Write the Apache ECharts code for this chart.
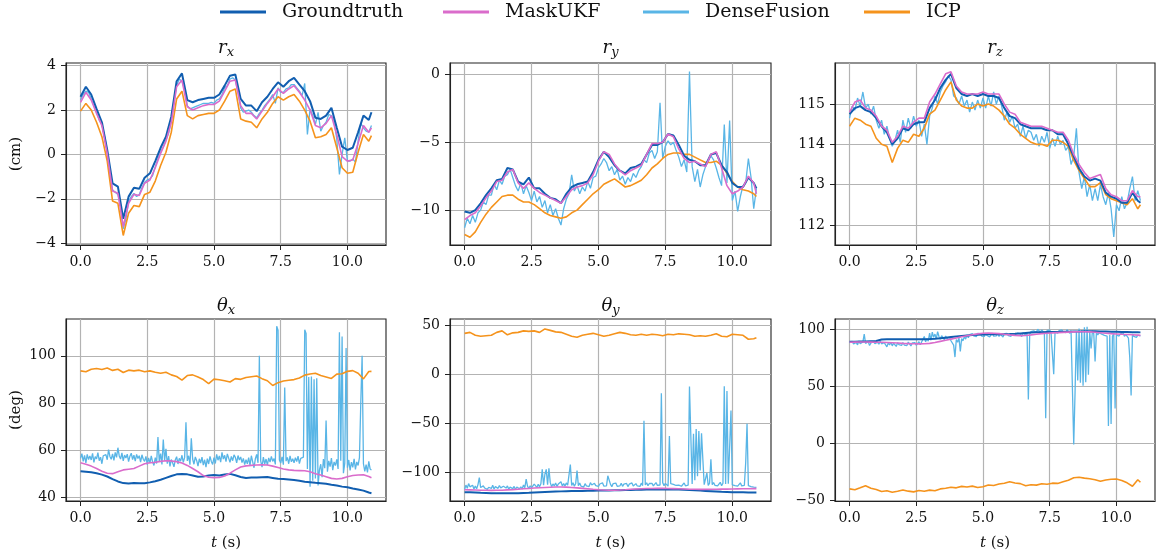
<!DOCTYPE html>
<html><head><meta charset="utf-8">
<script src="https://cdn.jsdelivr.net/npm/echarts@6/dist/echarts.min.js"></script>
<style>html,body{margin:0;padding:0;background:#fff}#c{width:1157px;height:558px}</style>
</head><body><div id="c"></div><script>
// ---------- time grids (sampling instants, seconds) ----------
const tC = []; for (let i = 0; i < 55; i++) tC.push(+(i * 0.2).toFixed(2)); tC.push(10.9);
const tF = []; for (let i = 0; i < 110; i++) tF.push(+(i * 0.1).toFixed(2));
const tD = []; for (let i = 0; i < 219; i++) tD.push(+(i * 0.05).toFixed(2));

const seriesNames = ['Groundtruth', 'MaskUKF', 'DenseFusion', 'ICP'];
const xTicks = [0, 2.5, 5, 7.5, 10];

// ---------- r_x (cm) ----------
const rxGT = [2.6,3.05,2.7,2.05,1.45,0.2,-1.3,-1.45,-2.9,-1.9,
 -1.5,-1.55,-1.05,-0.85,-0.3,0.3,0.8,1.7,3.3,3.65,
 2.45,2.35,2.45,2.5,2.55,2.55,2.7,3.1,3.55,3.6,
 2.5,2.2,2.2,1.95,2.35,2.6,2.95,3.25,3.05,3.3,
 3.45,3.15,2.85,2.4,1.65,1.6,1.75,2.1,1.2,0.35,
 0.2,0.3,1.0,1.75,1.55,1.9];
const rxUKF = [2.35,2.8,2.45,1.85,1.3,0.05,-1.65,-1.75,-3.25,-2.2,
 -1.8,-1.85,-1.3,-1.15,-0.6,0.05,0.6,1.45,3.05,3.35,
 2.15,2.0,2.1,2.2,2.25,2.25,2.4,2.85,3.3,3.35,
 2.2,1.85,1.85,1.6,1.95,2.3,2.6,2.95,2.75,2.95,
 3.1,2.8,2.45,2.0,1.3,1.2,1.4,1.75,0.9,-0.1,
 -0.3,-0.25,0.5,1.3,1.0,1.2];
const rxICP = [1.95,2.3,2.0,1.45,0.8,-0.3,-2.1,-2.2,-3.65,-2.65,
 -2.3,-2.35,-1.8,-1.7,-1.2,-0.5,0.1,1.0,2.5,2.85,
 1.75,1.6,1.75,1.8,1.85,1.85,2.0,2.4,2.85,2.95,
 1.6,1.5,1.45,1.2,1.6,1.9,2.3,2.6,2.45,2.6,
 2.7,2.4,2.0,1.5,0.75,0.8,0.9,1.2,0.3,-0.6,
 -0.85,-0.8,0.1,0.9,0.6,0.85];
const rxDF = [2.45,2.7,2.85,2.8,2.5,2.2,1.9,1.55,1.35,0.8,
 0.15,-0.9,-1.6,-1.7,-1.8,-2.3,-3.35,-2.9,-2.1,-1.9,
 -1.75,-1.9,-1.8,-1.5,-1.25,-1.15,-1.1,-0.95,-0.55,-0.2,
 0.1,0.35,0.65,0.95,1.5,2.3,3.1,3.4,3.3,2.9,
 2.2,2.05,2.1,2.15,2.2,2.25,2.3,2.3,2.3,2.35,
 2.3,2.45,2.5,2.7,3.0,3.1,3.4,3.45,3.35,2.8,
 2.1,1.9,1.95,2.0,1.9,1.75,1.65,1.85,2.0,2.2,
 2.35,2.5,2.7,2.3,3.0,2.8,2.8,2.95,3.0,3.15,
 3.15,3.0,2.85,2.65,3.2,0.9,2.05,1.75,1.35,1.9,
 1.05,1.3,1.45,1.8,1.75,1.5,0.7,-0.9,0.0,0.75,
 -0.3,-0.3,-0.2,-0.35,0.6,1.4,1.2,1.05,1.0,1.3];

// ---------- r_y (cm) ----------
const ryGT = [-10.1,-10.2,-10.0,-9.5,-8.9,-8.4,-7.8,-7.7,-6.9,-7.0,
 -7.9,-8.1,-7.6,-8.4,-8.4,-8.8,-9.1,-9.2,-9.5,-8.8,
 -8.3,-8.1,-8.0,-7.9,-7.2,-6.3,-5.7,-6.1,-6.7,-7.1,
 -7.3,-6.9,-6.8,-6.6,-5.9,-5.2,-5.2,-5.0,-4.4,-4.5,
 -5.2,-6.0,-6.3,-6.4,-6.7,-6.7,-5.9,-5.8,-6.7,-7.2,
 -8.0,-8.3,-8.3,-7.6,-8.0,-8.4];
const ryUKF = [-10.7,-10.4,-10.2,-9.7,-9.1,-8.6,-7.9,-7.8,-7.2,-7.0,
 -8.0,-8.4,-8.0,-8.4,-8.7,-8.9,-9.1,-9.3,-9.5,-9.0,
 -8.5,-8.3,-8.2,-8.0,-7.4,-6.4,-5.7,-5.9,-6.6,-7.1,
 -7.4,-7.1,-6.9,-6.7,-5.9,-5.1,-5.1,-5.0,-4.4,-4.6,
 -5.5,-6.2,-6.5,-6.4,-6.6,-6.8,-5.9,-5.7,-6.9,-8.2,
 -8.8,-8.6,-8.3,-7.5,-8.0,-8.8];
const ryICP = [-11.8,-12.0,-11.6,-10.9,-10.3,-9.8,-9.4,-9.0,-8.9,-8.9,
 -9.2,-9.4,-9.4,-9.6,-9.9,-10.2,-10.4,-10.5,-10.6,-10.5,
 -10.2,-10.0,-9.6,-9.2,-8.8,-8.5,-8.1,-7.9,-7.7,-8.0,
 -8.3,-8.2,-8.0,-7.8,-7.4,-6.9,-6.6,-6.2,-5.9,-5.8,
 -5.8,-5.9,-5.9,-6.1,-6.3,-6.5,-6.5,-6.4,-6.7,-7.3,
 -7.9,-8.3,-8.5,-8.6,-8.8,-9.0];
const ryDF = [-11.3,-10.6,-11.0,-10.4,-10.9,-10.2,-10.0,-9.4,-9.6,-8.9,
 -8.9,-8.1,-8.5,-7.8,-8.1,-7.5,-7.4,-7.0,-7.6,-8.2,
 -8.6,-8.0,-8.8,-8.2,-8.7,-9.3,-8.6,-9.4,-9.0,-9.8,
 -9.3,-10.2,-9.6,-10.4,-9.9,-10.6,-11.1,-9.9,-9.2,-8.8,
 -7.4,-8.6,-8.2,-8.8,-8.3,-8.6,-7.9,-8.4,-7.6,-7.5,
 -6.9,-6.6,-6.2,-6.5,-7.1,-6.8,-7.4,-7.0,-7.8,-7.5,
 -8.1,-7.6,-7.9,-7.3,-7.6,-7.1,-6.8,-6.3,-6.5,-5.8,
 -5.6,-6.2,-5.7,-2.1,-6.2,-5.3,-4.9,-5.2,-5.0,-5.6,
 -6.1,-6.8,-6.3,-7.2,0.2,-6.8,-7.9,-7.0,-8.3,-7.4,
 -6.8,-6.4,-6.0,-6.3,-6.9,-7.6,-8.2,-3.7,-8.0,-3.4,
 -9.3,-8.6,-10.1,-9.0,-8.2,-8.0,-6.2,-7.6,-9.9,-8.4];

// ---------- r_z (cm) ----------
const rzGT = [114.75,114.9,114.95,114.85,114.8,114.65,114.45,114.3,114.0,114.15,
 114.4,114.35,114.5,114.55,114.55,114.9,115.1,115.4,115.6,115.75,
 115.4,115.25,115.2,115.25,115.2,115.25,115.2,115.2,115.15,114.9,
 114.7,114.65,114.5,114.45,114.4,114.4,114.4,114.35,114.35,114.25,
 114.25,114.0,113.7,113.4,113.2,113.1,113.15,113.1,112.8,112.7,
 112.65,112.55,112.55,112.8,112.6,112.55];
const rzUKF = [114.8,115.05,115.1,114.9,114.85,114.7,114.45,114.35,114.05,114.2,
 114.45,114.4,114.55,114.65,114.65,115.05,115.25,115.5,115.75,115.8,
 115.45,115.3,115.25,115.25,115.25,115.3,115.25,115.25,115.25,115.0,
 114.8,114.75,114.55,114.5,114.45,114.45,114.45,114.4,114.35,114.3,
 114.3,114.1,113.75,113.5,113.3,113.15,113.2,113.25,112.9,112.75,
 112.7,112.6,112.6,112.85,112.7,112.7];
const rzICP = [114.45,114.65,114.6,114.5,114.45,114.15,114.0,113.95,113.55,113.9,
 114.1,114.05,114.25,114.2,114.4,114.75,114.85,115.1,115.35,115.55,
 115.1,114.95,114.9,114.9,115.0,114.95,115.0,114.95,114.85,114.7,
 114.5,114.4,114.25,114.15,114.05,114.0,114.0,113.95,114.1,114.1,
 114.05,113.95,113.6,113.35,113.15,112.95,112.95,113.05,112.75,112.65,
 112.6,112.55,112.5,112.65,112.4,112.5];
const rzDF = [114.65,114.95,114.85,115.15,114.95,115.3,114.9,115.0,114.75,114.95,
 114.6,114.4,114.6,114.25,114.45,114.15,113.95,114.1,114.35,114.05,
 114.6,114.3,114.65,114.4,114.7,114.45,114.6,114.2,114.5,114.0,
 114.7,114.9,115.2,115.0,115.3,115.45,115.55,115.7,115.6,115.2,
 115.15,115.0,115.2,114.95,115.1,114.8,115.05,114.85,115.1,114.9,
 115.15,114.9,115.2,114.95,115.3,115.0,115.2,114.95,114.6,114.8,
 114.55,114.7,114.4,114.5,114.2,114.45,114.15,114.35,114.3,114.1,
 114.25,113.95,114.2,114.05,114.3,113.9,114.15,113.95,114.2,114.0,
 114.1,113.85,113.95,113.5,113.7,114.4,113.3,112.9,113.2,112.7,
 113.0,112.6,112.9,112.6,113.0,112.7,112.5,112.8,112.4,111.7,
 112.5,112.35,112.7,112.4,112.55,112.9,113.2,112.6,112.85,112.6];

// ---------- theta_x (deg) ----------
const txGT = [51.0,50.8,50.6,50.2,49.6,48.8,47.7,46.7,46.0,45.8,
 46.0,45.9,45.9,46.3,46.8,47.4,48.2,49.0,49.7,49.9,
 49.7,49.2,48.7,48.8,49.2,49.4,49.2,49.6,49.9,49.3,
 48.6,48.2,48.4,48.4,48.5,48.6,48.2,47.8,47.7,47.5,
 47.3,47.0,46.6,46.4,46.1,45.9,45.7,45.3,45.0,44.5,
 44.2,43.7,43.3,42.8,42.0,41.7];
const txUKF = [54.6,54.0,53.2,52.2,51.0,50.2,50.0,50.8,51.6,51.9,
 52.2,53.2,54.2,54.6,54.8,55.2,55.5,55.4,55.1,54.5,
 53.5,52.2,50.8,49.2,48.5,48.3,48.4,49.0,50.2,51.6,
 52.8,53.3,53.5,53.7,53.8,53.7,53.2,52.6,52.0,51.6,
 51.4,51.3,51.2,50.8,50.0,49.4,48.7,48.0,47.7,48.0,
 48.7,49.2,49.4,49.5,48.8,48.3];
const txICP = [93.6,93.2,94.3,94.6,94.2,94.8,93.8,94.3,92.9,93.9,
 93.6,93.9,93.2,93.6,93.0,92.6,93.0,91.9,91.2,89.7,
 91.6,91.9,91.0,89.9,88.2,90.1,89.8,89.4,88.9,90.3,
 90.0,90.8,91.1,91.4,90.3,89.4,87.4,88.6,89.3,89.6,
 89.9,90.6,91.8,92.3,92.6,91.6,91.0,90.4,92.2,92.4,
 93.4,93.7,92.6,90.2,93.3,93.4];
const txDF = [56.5,58.5,55.2,57.8,54.6,58.2,56.0,57.5,55.8,58.6,54.8,57.2,56.3,58.9,55.5,57.0,54.2,57.6,56.8,58.1,
 55.9,60.2,57.3,56.1,58.4,55.6,59.0,56.9,61.0,57.5,56.2,58.8,55.4,57.9,56.6,58.3,55.1,57.4,58.7,56.0,
 57.8,55.3,58.2,56.4,57.6,54.9,58.0,56.1,55.2,57.3,53.8,56.7,54.5,57.5,55.0,53.5,56.8,54.3,65.5,55.2,
 58.5,53.9,64.5,55.5,60.5,54.2,57.4,53.1,56.0,54.6,52.9,55.8,57.2,54.1,56.5,55.3,57.8,54.8,56.9,71.8,
 55.4,57.6,53.8,65.0,56.2,54.0,57.1,55.6,53.2,56.3,54.5,57.0,53.6,55.9,52.8,56.4,54.1,57.3,55.2,53.9,
 56.8,54.3,58.2,55.7,57.5,54.9,59.0,56.2,57.8,55.1,58.4,56.6,54.8,57.3,55.5,58.0,56.9,54.6,57.7,55.8,
 57.1,54.7,56.5,53.8,55.9,54.2,56.8,53.5,57.6,55.0,52.5,56.3,58.2,54.6,100.0,55.4,52.8,57.0,54.1,56.2,
 53.6,56.7,54.9,57.3,55.2,56.4,53.9,112.5,110.8,55.8,54.5,57.1,53.8,86.5,55.3,56.9,54.2,57.5,55.0,56.3,
 54.6,56.8,55.1,57.4,54.3,56.5,55.7,57.0,111.0,109.5,52.0,91.0,44.5,91.2,47.0,90.0,48.0,90.5,45.0,51.5,
 54.0,48.5,56.2,52.3,72.5,50.8,55.4,53.0,56.6,51.5,55.0,53.4,56.1,52.0,110.0,55.5,108.2,50.2,54.5,103.3,
 52.5,55.8,51.4,54.9,52.7,56.3,51.8,55.0,53.5,56.8,80.0,100.0,54.2,51.0,53.8,50.5,55.2,52.0,51.5];

// ---------- theta_y (deg) ----------
const tyGT = [-120.2,-120.4,-120.6,-120.9,-121.0,-121.2,-121.3,-121.4,-121.4,-121.3,
 -121.2,-121.0,-120.8,-120.5,-120.2,-120.0,-119.8,-119.6,-119.4,-119.2,
 -119.1,-119.0,-118.9,-118.8,-118.7,-118.6,-118.5,-118.4,-118.3,-118.2,
 -118.1,-118.0,-117.8,-117.7,-117.6,-117.5,-117.5,-117.4,-117.4,-117.5,
 -117.6,-117.8,-118.0,-118.3,-118.6,-118.9,-119.2,-119.5,-119.8,-120.0,
 -120.2,-120.3,-120.4,-120.5,-120.6,-120.6];
const tyUKF = [-117.8,-117.9,-118.0,-118.2,-118.3,-118.4,-118.3,-118.2,-117.9,-117.6,
 -117.2,-116.8,-116.4,-116.0,-115.7,-115.4,-115.2,-115.0,-115.0,-115.1,
 -115.4,-115.8,-116.3,-116.8,-117.3,-117.7,-118.0,-118.2,-118.2,-118.0,
 -117.7,-117.3,-117.0,-116.7,-116.5,-116.4,-116.3,-116.3,-116.4,-116.6,
 -116.8,-117.0,-117.2,-117.3,-117.4,-117.4,-117.3,-117.2,-117.1,-117.1,
 -117.0,-116.9,-116.8,-116.7,-116.6,-116.6];
const tyICP = [41.5,42.5,39.5,38.5,39.0,39.5,42.5,44.0,40.0,42.0,
 42.5,44.0,43.5,44.0,42.5,46.0,44.5,43.0,42.5,40.5,
 38.5,37.5,39.5,40.5,41.5,40.0,38.5,39.5,41.0,42.5,
 41.5,40.0,39.5,40.5,39.5,40.5,40.0,39.0,40.5,40.0,
 41.0,40.5,40.0,38.5,39.0,38.5,39.5,41.0,38.5,38.0,
 40.5,40.0,39.5,35.5,36.0,37.0];
const tyDF = [-117.5,-113.0,-116.2,-111.5,-114.8,-116.5,-113.2,-117.0,-114.0,-116.8,-112.5,-105.3,-115.5,-117.2,-113.8,-116.0,-114.5,-117.3,-115.2,-113.6,
 -116.4,-113.1,-117.0,-114.6,-112.8,-116.3,-113.5,-115.8,-117.1,-114.2,-112.6,-116.0,-113.9,-117.2,-115.1,-113.3,-116.6,-114.4,-117.4,-115.0,
 -113.4,-116.8,-114.7,-117.0,-112.9,-115.6,-107.0,-114.1,-116.5,-113.7,-115.9,-114.2,-112.0,-113.5,-115.4,-112.2,-114.8,-111.6,-96.9,-113.0,
 -102.0,-97.0,-112.5,-95.8,-110.5,-114.6,-111.8,-113.9,-110.9,-114.3,-112.0,-113.4,-109.6,-113.8,-111.5,-114.0,-110.8,-113.2,-111.9,-92.1,
 -113.5,-110.6,-114.2,-111.3,-98.2,-113.7,-110.9,-114.1,-112.4,-115.0,-111.6,-113.8,-112.0,-114.5,-110.5,-112.9,-114.3,-111.2,-113.6,-112.1,
 -114.4,-111.9,-113.2,-110.7,-114.0,-112.5,-113.8,-103.5,-104.0,-112.3,-114.6,-111.4,-113.1,-110.9,-114.2,-112.6,-113.9,-111.1,-114.3,-112.0,
 -113.6,-111.3,-114.5,-112.1,-113.4,-110.8,-114.0,-112.7,-111.5,-113.9,-112.2,-114.4,-111.0,-113.5,-47.5,-112.8,-110.6,-113.7,-111.4,-112.9,
 -111.2,-113.8,-112.0,-110.4,-113.3,-111.7,-112.9,-19.4,-110.5,-113.6,-111.3,-112.7,-114.1,-63.0,-111.6,-113.5,-112.2,-110.9,-113.4,-111.8,
 -113.0,-111.5,-114.2,-112.4,-110.8,-113.7,-111.9,-113.1,-12.6,-13.5,-112.0,-60.7,-108.0,-56.0,-104.0,-58.0,-98.0,-60.3,-87.0,-112.5,
 -111.8,-100.5,-113.4,-111.0,-86.7,-112.6,-110.4,-113.2,-111.5,-113.9,-112.3,-110.2,-113.6,-111.1,-12.3,-112.0,-17.3,-111.7,-113.0,-37.0,
 -112.8,-110.9,-113.5,-111.6,-114.0,-112.3,-110.7,-113.8,-111.9,-113.2,-90.0,-50.5,-113.6,-112.4,-114.5,-113.1,-115.0,-114.2,-115.3];

// ---------- theta_z (deg) ----------
const tzGT = [89.0,89.0,89.1,89.2,89.4,89.6,90.8,91.0,91.1,91.1,
 91.0,91.0,91.0,91.0,91.1,91.3,91.6,92.0,92.5,93.0,
 93.5,94.0,94.4,94.7,95.0,95.2,95.4,95.5,95.5,95.5,
 95.6,95.8,96.2,96.6,97.0,97.2,97.3,97.4,97.5,97.5,
 97.6,97.7,97.8,97.9,98.0,98.0,98.0,97.9,97.8,97.7,
 97.6,97.5,97.4,97.3,97.2,97.1];
const tzUKF = [88.5,88.6,88.7,88.7,88.6,88.5,88.4,88.2,88.0,87.8,
 87.5,87.3,87.1,87.0,87.1,87.5,88.2,89.2,90.2,91.2,
 92.2,93.2,94.1,95.0,95.8,96.4,96.6,96.4,96.0,95.4,
 94.9,94.5,94.3,94.4,94.9,95.5,96.0,96.4,96.7,96.9,
 97.1,97.3,97.5,97.6,97.6,97.5,97.2,96.8,96.4,96.0,
 95.7,95.4,95.2,95.0,94.7,94.5];
const tzICP = [-39.8,-40.6,-38.9,-37.0,-39.2,-40.3,-42.1,-41.4,-42.8,-41.9,
 -40.7,-41.8,-42.4,-41.2,-41.9,-40.9,-41.5,-39.8,-39.2,-38.4,
 -38.9,-37.6,-38.2,-37.4,-38.6,-38.0,-36.4,-36.9,-35.6,-34.8,
 -33.5,-34.6,-35.2,-37.0,-36.2,-36.5,-35.3,-35.7,-34.8,-35.0,
 -33.6,-32.2,-30.1,-29.6,-30.4,-30.9,-31.8,-33.2,-32.0,-31.4,
 -31.2,-32.4,-34.5,-37.5,-31.8,-34.0];
const tzDF = [88.0,86.5,89.2,87.0,85.8,88.4,86.2,89.5,87.3,86.0,88.8,95.5,87.5,86.3,88.9,85.6,87.8,86.4,89.0,87.2,
 85.9,88.6,86.7,89.3,87.1,85.4,88.2,86.6,84.5,87.9,86.1,88.5,85.3,87.6,86.8,84.8,88.1,86.3,87.4,85.7,
 88.3,86.0,87.7,85.5,88.6,86.9,85.2,87.8,86.4,88.1,85.8,87.3,89.0,86.2,88.7,87.5,93.5,88.9,91.8,89.4,
 96.5,90.2,97.3,92.8,95.6,91.4,97.8,93.5,91.0,94.2,92.6,90.7,93.9,91.8,90.3,92.7,89.8,91.5,86.0,75.5,
 90.8,88.5,92.3,80.5,91.6,89.7,93.4,91.2,94.8,92.5,95.2,93.7,96.0,94.1,95.5,93.3,96.3,94.6,95.8,93.9,
 95.1,93.6,96.2,94.4,95.7,93.2,94.9,96.4,93.8,95.3,94.0,96.1,93.5,95.6,94.3,93.1,95.9,94.7,96.3,94.2,
 95.4,93.7,96.0,94.5,95.2,93.9,96.5,94.8,95.7,93.4,96.8,95.1,94.6,96.9,38.5,95.5,97.8,96.2,98.4,99.5,
 97.1,99.8,98.5,97.3,99.2,98.0,96.6,22.0,98.8,97.4,99.1,96.9,98.2,60.5,97.6,99.0,96.4,98.7,97.2,99.3,
 97.5,98.9,96.8,99.4,97.9,96.3,98.6,97.0,-0.9,45.0,98.2,55.0,100.5,53.0,99.0,50.5,101.5,53.5,102.0,60.0,
 97.8,83.0,98.5,96.0,71.6,97.1,94.8,96.9,95.3,95.6,97.3,94.5,96.2,93.9,15.2,95.0,17.0,93.6,96.1,30.5,
 94.8,96.5,93.9,95.8,94.2,96.7,93.6,95.4,94.1,92.0,75.0,42.0,95.7,93.5,95.1,92.8,94.6,93.2,94.0];

// ---------- panel description ----------
const panels = [
  {sym:'r', sub:'x', gt:rxGT, ukf:rxUKF, df:rxDF, dfT:tF, icp:rxICP, min:-4.08, max:4.12, ticks:[-4,-2,0,2,4], unit:'(cm)'},
  {sym:'r', sub:'y', gt:ryGT, ukf:ryUKF, df:ryDF, dfT:tF, icp:ryICP, min:-12.57, max:0.83, ticks:[-10,-5,0]},
  {sym:'r', sub:'z', gt:rzGT, ukf:rzUKF, df:rzDF, dfT:tF, icp:rzICP, min:111.5, max:116.02, ticks:[112,113,114,115]},
  {sym:'θ', sub:'x', gt:txGT, ukf:txUKF, df:txDF, dfT:tD, icp:txICP, min:38.4, max:115.6, ticks:[40,60,80,100], unit:'(deg)'},
  {sym:'θ', sub:'y', gt:tyGT, ukf:tyUKF, df:tyDF, dfT:tD, icp:tyICP, min:-129.2, max:56.1, ticks:[-100,-50,0,50]},
  {sym:'θ', sub:'z', gt:tzGT, ukf:tzUKF, df:tzDF, dfT:tD, icp:tzICP, min:-50.4, max:108.8, ticks:[-50,0,50,100]}
];
panels.forEach((p, i) => {
  [['gt', tC], ['ukf', tC], ['icp', tC], ['df', p.dfT]].forEach(([k, tt]) => {
    if (p[k].length !== tt.length) throw new Error('panel ' + i + ' ' + k + ' length ' + p[k].length + ' vs ' + tt.length);
  });
});

const FONT = 'DejaVu Serif';
const TXT = '#111';
const colLeft = [66, 450, 835], colW = [320, 321, 320], rowTop = [63, 319], H = 182;
const colors = {Groundtruth:'#115eb0', MaskUKF:'#da6ccb', DenseFusion:'#59b5e6', ICP:'#f5931c'};
const widths = {Groundtruth:2, MaskUKF:1.6, DenseFusion:1.3, ICP:1.6};

const grids = [], xAxes = [], yAxes = [], series = [], titles = [];
const pairs = (tt, vv) => tt.map((t, j) => [t, vv[j]]);
const fmtY = v => (v < 0 ? '\u2212' : '') + Math.abs(v);

panels.forEach((p, i) => {
  const r = Math.floor(i / 3), c = i % 3;
  grids.push({left: colLeft[c], top: rowTop[r], width: colW[c], height: H, show: true,
    borderColor: '#222', borderWidth: 1.1, backgroundColor: 'transparent'});
  const xa = {type: 'value', gridIndex: i, min: -0.545, max: 11.445, position: 'bottom',
    axisLine: {show: true, onZero: false, lineStyle: {color: '#222', width: 1.1}},
    axisTick: {show: true, inside: false, length: 5, customValues: xTicks, lineStyle: {color: '#222', width: 1}},
    axisLabel: {customValues: xTicks, formatter: v => v.toFixed(1), margin: 10, color: TXT, fontFamily: FONT, fontSize: 14},
    splitLine: {show: true, lineStyle: {color: '#b3b3b3', width: 1.2}}};
  if (r === 1) {
    xa.name = '{i|t} (s)';
    xa.nameLocation = 'middle';
    xa.nameGap = 35;
    xa.nameTextStyle = {fontFamily: FONT, fontSize: 15, color: TXT, rich: {i: {fontFamily: FONT, fontStyle: 'italic', fontSize: 15, color: TXT}}};
  }
  xAxes.push(xa);
  const ya = {type: 'value', gridIndex: i, min: p.min, max: p.max, position: 'left',
    axisLine: {show: true, onZero: false, lineStyle: {color: '#222', width: 1.1}},
    axisTick: {show: true, inside: false, length: 5, customValues: p.ticks, lineStyle: {color: '#222', width: 1}},
    axisLabel: {customValues: p.ticks, formatter: fmtY, margin: 10, color: TXT, fontFamily: FONT, fontSize: 14},
    splitLine: {show: true, lineStyle: {color: '#b3b3b3', width: 1.2}}};
  if (p.unit) {
    ya.name = p.unit; ya.nameLocation = 'middle'; ya.nameRotate = 90; ya.nameGap = 42;
    ya.nameTextStyle = {fontFamily: FONT, fontSize: 15, color: TXT};
  }
  yAxes.push(ya);
  titles.push({
    text: '{m|' + p.sym + '}{s|' + p.sub + '}',
    left: colLeft[c] + colW[c] / 2, top: r === 0 ? 37 : 295, textAlign: 'center', padding: 0,
    textStyle: {fontWeight: 'normal', rich: {
      m: {fontFamily: FONT, fontStyle: 'italic', fontWeight: 'normal', fontSize: 18, lineHeight: 22, color: TXT},
      s: {fontFamily: FONT, fontStyle: 'italic', fontWeight: 'normal', fontSize: 13, lineHeight: 15, verticalAlign: 'bottom', color: TXT}
    }}
  });
  const mk = (name, tt, vv) => ({
    name, type: 'line', xAxisIndex: i, yAxisIndex: i, data: pairs(tt, vv),
    showSymbol: false, symbol: 'none', silent: true, animation: false,
    lineStyle: {color: colors[name], width: widths[name]}, itemStyle: {color: colors[name]},
    emphasis: {disabled: true}
  });
  series.push(mk('DenseFusion', p.dfT, p.df));
  series.push(mk('ICP', tC, p.icp));
  series.push(mk('Groundtruth', tC, p.gt));
  series.push(mk('MaskUKF', tC, p.ukf));
});

const legendLeft = [220, 443, 643, 864];
const legends = seriesNames.map((n, k) => ({
  data: [n], left: legendLeft[k], top: 1, icon: 'rect', itemWidth: 46, itemHeight: 3,
  selectedMode: false, padding: 0,
  textStyle: {fontFamily: FONT, fontSize: 19, color: TXT, padding: [0, 0, 0, 11], lineHeight: 22}
}));

const chart = echarts.init(document.getElementById('c'), null, {renderer: 'canvas'});
chart.setOption({
  backgroundColor: '#fff', animation: false,
  title: titles, legend: legends, grid: grids, xAxis: xAxes, yAxis: yAxes, series
});
</script></body></html>
